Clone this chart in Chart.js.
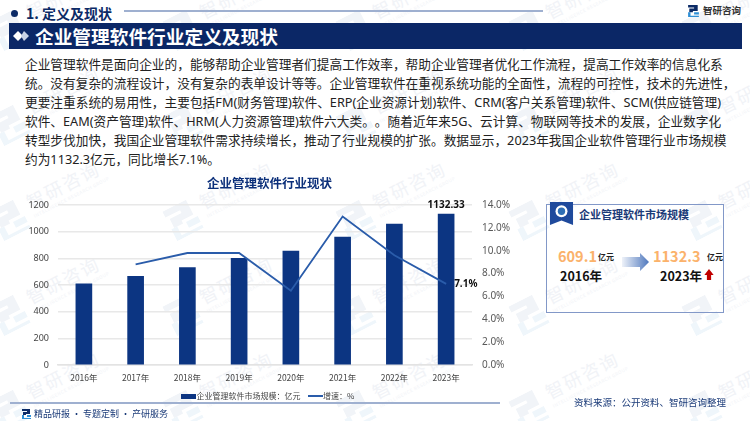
<!DOCTYPE html>
<html lang="zh">
<head>
<meta charset="utf-8">
<title>企业管理软件行业定义及现状</title>
<script src="https://cdn.jsdelivr.net/npm/chart.js@4"></script>
<style>
  html, body { margin: 0; padding: 0; background: #fff; }
  body { width: 750px; height: 421px; position: relative; overflow: hidden; font-family: "Noto Sans CJK SC", sans-serif; text-spacing-trim: space-all; }
  .abs { position: absolute; white-space: nowrap; }
  .wm { position: absolute; width: 110px; height: 60px; transform: rotate(-27deg); color: #f1f3f7; white-space: nowrap; }
  .wm b { position: absolute; left: 38px; top: 0; font-size: 18px; font-weight: 400; letter-spacing: 2px; }
  .wm i { position: absolute; left: 38px; top: 25px; font-size: 4.500px; font-style: normal; letter-spacing: .5px; }
  .wm svg { position: absolute; left: 0; top: 4px; }
  .intro { left: 25px; top: 55px; font-family: "Noto Sans", "Noto Sans CJK SC", sans-serif; font-size: 12.700px; line-height: 19.100px; color: #222; }
  #chart-wrap { position: absolute; left: 0; top: 170px; width: 539px; height: 240px; }
</style>
</head>
<body>
<div id="wms"></div>

<div class="abs" style="left:11px;top:10px;width:7px;height:7px;border-radius:50%;background:#0b2a66"></div>
<div class="abs" style="left:26px;top:3px;font-size:14px;font-weight:700;color:#0b2a66">1. 定义及现状</div>
<div class="abs" style="left:124px;top:10px;width:419px;height:2px;background:#9fb0d0"></div>

<svg class="abs" style="left:688px;top:5px" width="11" height="12" viewBox="0 0 9 10">
  <path d="M0 0h8v5H4v1H1V3h4V2H0z" fill="#0b2a66"/><path d="M0 6h2v3h7v1H0zM5 6h4v2H5z" fill="#2e8fd6"/>
</svg>
<div class="abs" style="left:703px;top:3px;font-size:9.500px;font-weight:700;color:#333">智研咨询</div>

<div class="abs" style="left:9px;top:23px;width:733px;height:26px;background:#0b2766"></div>
<svg class="abs" style="left:13px;top:31px" width="17" height="10" viewBox="0 0 17 10">
  <path d="M5 0l5 5-5 5-5-5z" fill="#fff"/><path d="M11 0l5 5-5 5-3-5z" fill="#c9d3e6"/>
</svg>
<div class="abs" style="left:35px;top:23px;font-size:18.700px;font-weight:700;color:#fff;line-height:26px">企业管理软件行业定义及现状</div>

<div class="abs intro">企业管理软件是面向企业的，能够帮助企业管理者们提高工作效率，帮助企业管理者优化工作流程，提高工作效率的信息化系<br>统。没有复杂的流程设计，没有复杂的表单设计等等。企业管理软件在重视系统功能的全面性，流程的可控性，技术的先进性，<br>更要注重系统的易用性，主要包括FM(财务管理)软件、ERP(企业资源计划)软件、CRM(客户关系管理)软件、SCM(供应链管理)<br>软件、EAM(资产管理)软件、HRM(人力资源管理)软件六大类。。随着近年来5G、云计算、物联网等技术的发展，企业数字化<br>转型步伐加快，我国企业管理软件需求持续增长，推动了行业规模的扩张。数据显示，2023年我国企业软件管理行业市场规模<br>约为1132.3亿元，同比增长7.1%。</div>

<div id="chart-wrap"><canvas id="chart"></canvas></div>

<!-- 右侧卡片 -->
<div class="abs" style="left:546px;top:204px;width:176px;height:107px;border:1.500px solid #8298c8"></div>
<svg class="abs" style="left:549px;top:202px" width="25" height="24" viewBox="0 0 25 26">
  <path d="M0 0h25v25l-12.500-5L0 25z" fill="#1f4a9c"/><circle cx="12.500" cy="10" r="6.500" fill="#fff"/><circle cx="12.500" cy="10" r="4" fill="#2f6fb5"/>
</svg>
<div class="abs" style="left:579px;top:206px;font-size:11px;font-weight:700;color:#1a3a78">企业管理软件市场规模</div>
<div class="abs" style="left:558px;top:245px;font-size:14.500px;font-weight:700;color:#fbb26b">609.1</div>
<div class="abs" style="left:598px;top:251px;font-size:8px;font-weight:700;color:#222">亿元</div>
<div class="abs" style="left:560px;top:266px;font-size:12.500px;font-weight:700;color:#111">2016年</div>
<svg class="abs" style="left:622px;top:253px" width="27" height="18" viewBox="0 0 27 18">
  <defs><linearGradient id="ag"><stop offset="0" stop-color="#eef2f9"/><stop offset="1" stop-color="#4f78bd"/></linearGradient></defs>
  <path d="M0 4h18V0l9 9-9 9v-4H0z" fill="url(#ag)"/>
</svg>
<div class="abs" style="left:653px;top:245px;font-size:14.500px;font-weight:700;color:#fbb26b">1132.3</div>
<div class="abs" style="left:707px;top:251px;font-size:8px;font-weight:700;color:#222">亿元</div>
<div class="abs" style="left:660px;top:266px;font-size:12.500px;font-weight:700;color:#111">2023年</div>
<svg class="abs" style="left:704px;top:269px" width="10" height="11" viewBox="0 0 11 13">
  <path d="M5.500 0L11 7H8v6H3V7H0z" fill="#c00000"/>
</svg>

<!-- 底部 -->
<div class="abs" style="left:10px;top:402px;width:490px;height:2px;background:#9fb0d0"></div>
<svg class="abs" style="left:22px;top:409px" width="9" height="10" viewBox="0 0 9 10">
  <path d="M0 0h8v5H4v1H1V3h4V2H0z" fill="#0b2a66"/><path d="M0 6h2v3h7v1H0zM5 6h4v2H5z" fill="#2e8fd6"/>
</svg>
<div class="abs" style="left:34px;top:407px;font-size:9px;color:#1a3a78">精品研报 · 专题定制 · 产研服务</div>
<div class="abs" style="left:574px;top:395px;font-size:9.500px;color:#1a3a78">资料来源：公开资料、智研咨询整理</div>

<script>
/***********************
 * DATA
 ***********************/
const years = ["2016年", "2017年", "2018年", "2019年", "2020年", "2021年", "2022年", "2023年"];
const marketSize = [609.1, 665, 730, 800, 855, 960, 1056, 1132.33];
const growthRate = [null, 8.8, 9.8, 9.8, 6.5, 13.0, 9.6, 7.1];
const leftTicks = [0, 200, 400, 600, 800, 1000, 1200];
const rightTicks = [0, 2, 4, 6, 8, 10, 12, 14];

const NAVY = "#0c3582";
const LINE_BLUE = "#2a5caa";
const CJK = "'Noto Sans CJK SC', sans-serif";

/***********************
 * Watermarks
 ***********************/
function addWatermarks() {
  const box = document.getElementById("wms");
  const logo = '<svg width="30" height="33" viewBox="0 0 9 10"><path d="M0 0h8v5H4v1H1V3h4V2H0z" fill="#f1f4f8"/><path d="M0 6h2v3h7v1H0zM5 6h4v2H5z" fill="#eff6fb"/></svg>';
  [-5, 168, 341, 514, 687].forEach((x) => {
    [-10, 85, 180, 275, 370].forEach((y) => {
      const d = document.createElement("div");
      d.className = "wm";
      d.innerHTML = logo + "<b>智研咨询</b><i>INTELLIGENCE RESEARCH GROUP</i>";
      d.style.left = x + "px";
      d.style.top = y + "px";
      box.appendChild(d);
    });
  });
}

/***********************
 * Chart
 ***********************/
function legendSwatch(color, w, h) {
  const c = document.createElement("canvas");
  c.width = w;
  c.height = h;
  const g = c.getContext("2d");
  g.fillStyle = color;
  g.fillRect(0, 0, w, h);
  return c;
}

// 标注 2023 年的数值
const endLabels = {
  id: "endLabels",
  afterDatasetsDraw(chart) {
    const { ctx } = chart;
    const bar = chart.getDatasetMeta(0).data[7];
    const pt = chart.getDatasetMeta(1).data[7];
    ctx.save();
    ctx.font = "700 10px 'Noto Sans', sans-serif";
    ctx.fillStyle = "#111";
    ctx.textAlign = "center";
    ctx.textBaseline = "bottom";
    ctx.fillText(marketSize[7].toFixed(2), bar.x, bar.y - 4);
    ctx.textAlign = "left";
    ctx.textBaseline = "middle";
    ctx.fillText(growthRate[7].toFixed(1) + "%", pt.x + 8, pt.y);
    ctx.restore();
  },
};

function drawChart() {
  new Chart(document.getElementById("chart"), {
    type: "bar",
    plugins: [endLabels],
    data: {
      labels: years,
      datasets: [
        { label: "企业管理软件市场规模：亿元", data: marketSize, backgroundColor: NAVY, barThickness: 16, yAxisID: "y", order: 2 },
        { label: "增速：%", type: "line", data: growthRate, borderColor: LINE_BLUE, borderWidth: 1.8, pointRadius: 0, tension: 0, yAxisID: "y1", order: 1 },
      ],
    },
    options: {
      responsive: true,
      maintainAspectRatio: false,
      animation: false,
      layout: { autoPadding: false },
      plugins: {
        title: {
          display: true,
          text: "企业管理软件行业现状",
          color: "#0b2f7a",
          font: { size: 12.500, weight: "700", family: CJK },
          padding: { top: 6, bottom: 14 },
        },
        legend: {
          position: "bottom",
          labels: {
            color: "#444",
            font: { size: 8, family: CJK },
            usePointStyle: true,
            padding: 7,
            sort: (a, b) => a.datasetIndex - b.datasetIndex,
            generateLabels(chart) {
              const items = Chart.defaults.plugins.legend.labels.generateLabels(chart);
              items.forEach((it) => {
                if (it.datasetIndex === 0) {
                  it.pointStyle = legendSwatch(NAVY, 15, 5);
                  it.text += "\u00a0\u00a0"; // 两个图例之间留宽一点
                } else {
                  it.pointStyle = legendSwatch(LINE_BLUE, 15, 2);
                }
              });
              return items;
            },
          },
        },
        tooltip: { enabled: false },
      },
      scales: {
        x: {
          afterFit: (s) => { s.height = 20; },
          grid: { display: false },
          border: { color: "#e3e3e3", width: 1.5 },
          ticks: { color: "#444", font: { size: 8.500, family: CJK }, maxRotation: 0, padding: 0 },
        },
        y: {
          min: 0,
          max: 1200,
          afterFit: (s) => { s.width = 58; },
          afterBuildTicks: (s) => { s.ticks = leftTicks.map((value) => ({ value })); },
          grid: { color: "#e8e8e8", lineWidth: 1.5, drawTicks: false },
          border: { display: false },
          ticks: { color: "#444", font: { size: 9, family: "'Noto Sans', sans-serif" }, padding: 9, callback: (v) => String(v) },
        },
        y1: {
          position: "right",
          min: 0,
          max: 14,
          afterFit: (s) => { s.width = 67; },
          afterBuildTicks: (s) => { s.ticks = rightTicks.map((value) => ({ value })); },
          grid: { drawOnChartArea: false, drawTicks: false },
          border: { display: false },
          ticks: {
            color: "#595959",
            font: { size: 10, family: "'Noto Sans', sans-serif" },
            padding: 10,
            callback: (v) => v.toFixed(1) + "%",
          },
        },
      },
    },
  });
}

addWatermarks();
drawChart();
</script>
</body>
</html>
